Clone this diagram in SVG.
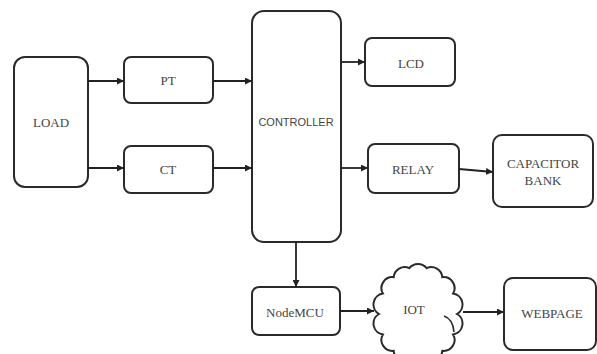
<svg xmlns="http://www.w3.org/2000/svg" width="597" height="354" viewBox="0 0 597 354">
<defs>
<marker id="ah" viewBox="0 0 10 10" refX="10" refY="5" markerWidth="7" markerHeight="7" orient="auto" markerUnits="userSpaceOnUse">
<path d="M0,0 L10,5 L0,10 z" fill="#222"/>
</marker>
<style>
.box{fill:#fff;stroke:#2a2a2a;stroke-width:2}
.t{font-family:"Liberation Serif","Times New Roman",serif;font-size:13px;fill:#444;text-anchor:middle;dominant-baseline:central}
.s{font-family:"Liberation Sans",Arial,sans-serif;font-size:11px;fill:#444;text-anchor:middle;dominant-baseline:central}
.c{fill:none;stroke:#222;stroke-width:1.8;marker-end:url(#ah)}
</style>
</defs>
<rect width="597" height="354" fill="#fff"/>
<g id="load"><rect class="box" x="14" y="57" width="74" height="130" rx="11"/><text class="t" x="51" y="122">LOAD</text></g>
<g id="pt"><rect class="box" x="124" y="57" width="89" height="46" rx="7"/><text class="t" x="168" y="80">PT</text></g>
<g id="ct"><rect class="box" x="124" y="146" width="89" height="47" rx="7"/><text class="t" x="168" y="169">CT</text></g>
<g id="controller"><rect class="box" x="252" y="11" width="89" height="231" rx="12"/><text class="s" x="296" y="122">CONTROLLER</text></g>
<g id="lcd"><rect class="box" x="365" y="38" width="90" height="48" rx="7"/><text class="t" x="411" y="63">LCD</text></g>
<g id="relay"><rect class="box" x="368" y="144" width="91" height="49" rx="7"/><text class="t" x="413" y="169">RELAY</text></g>
<g id="capbank"><rect class="box" x="493" y="135" width="100" height="72" rx="9"/><text class="t" x="543" y="163">CAPACITOR</text><text class="t" x="543" y="180">BANK</text></g>
<g id="nodemcu"><rect class="box" x="252" y="287" width="88" height="48" rx="7"/><text class="t" x="295" y="312">NodeMCU</text></g>
<g id="iot"><path class="box" d="M379,314 A11,11 0 0 1 382.9,293.6 A11,11 0 0 1 393.7,277.2 A11,11 0 0 1 409.3,268.2 A11,11 0 0 1 426.7,268.2 A11,11 0 0 1 442.3,277.2 A11,11 0 0 1 453.1,293.6 A11,11 0 0 1 457,314 A11,11 0 0 1 453.1,334.4 A11,11 0 0 1 442.3,350.8 A11,11 0 0 1 426.7,359.8 A11,11 0 0 1 409.3,359.8 A11,11 0 0 1 393.7,350.8 A11,11 0 0 1 382.9,334.4 A11,11 0 0 1 379,314 Z"/><path d="M444,316 q9,3 10,16" fill="none" stroke="#2a2a2a" stroke-width="1.6"/><text class="t" x="414" y="309">IOT</text></g>
<g id="webpage"><rect class="box" x="504" y="278" width="92" height="72" rx="9"/><text class="t" x="552" y="313">WEBPAGE</text></g>
<g id="connectors">
<line class="c" x1="88" y1="81" x2="124" y2="81"/>
<line class="c" x1="213" y1="81" x2="252" y2="81"/>
<line class="c" x1="88" y1="168" x2="124" y2="168"/>
<line class="c" x1="213" y1="168" x2="252" y2="168"/>
<line class="c" x1="341" y1="62" x2="365" y2="62"/>
<line class="c" x1="341" y1="168" x2="368" y2="168"/>
<line class="c" x1="459" y1="169" x2="493" y2="172"/>
<line class="c" x1="296" y1="242" x2="296" y2="287"/>
<line class="c" x1="340" y1="311" x2="374" y2="311"/>
<line class="c" x1="463" y1="312" x2="504" y2="312"/>
</g>
</svg>
